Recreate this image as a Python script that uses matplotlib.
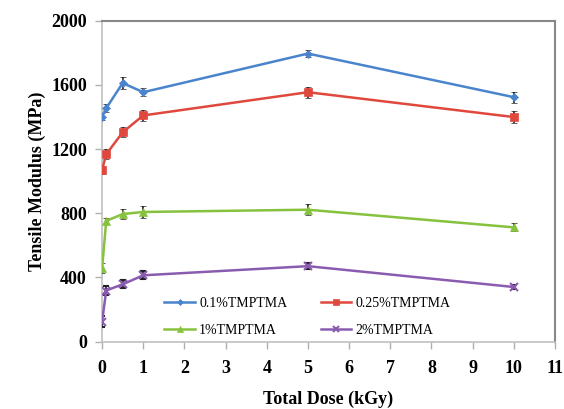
import matplotlib
matplotlib.use("Agg")
import matplotlib.pyplot as plt
from matplotlib.lines import Line2D

dose = [0, 0.1, 0.5, 1, 5, 10]
labels = ["0.1%TMPTMA", "0.25%TMPTMA", "1%TMPTMA", "2%TMPTMA"]
mod_01 = [1403, 1455, 1612, 1555, 1796, 1524]
err_01 = [20, 25, 35, 25, 20, 35]
mod_025 = [1070, 1168, 1305, 1410, 1555, 1400]
err_025 = [25, 30, 30, 35, 35, 40]
mod_1 = [457, 752, 795, 808, 822, 712]
err_1 = [30, 20, 30, 35, 35, 25]
mod_2 = [124, 318, 357, 413, 470, 340]
err_2 = [35, 30, 25, 25, 20, 15]

series = [mod_01, mod_025, mod_1, mod_2]
errors = [err_01, err_025, err_1, err_2]
colors = ["#4a84cc", "#e0483e", "#86c23e", "#8a5cb0"]
markers = ["D", "s", "^", "x"]
msizes = [4, 6, 6, 6]

xticks = list(range(0, 12))
yticks = [0, 400, 800, 1200, 1600, 2000]

fig = plt.figure(figsize=(5.64, 4.09), dpi=100)
ax = fig.add_axes([0.181, 0.165, 0.803, 0.784])

serif = "Liberation Serif"
handles = []
for y, e, c, m, ms, lab in zip(series, errors, colors, markers, msizes, labels):
    mew = 1.5 if m == "x" else 0.5
    ax.errorbar(dose, y, yerr=e, color=c, marker=m, markersize=ms, lw=1.8,
                ecolor="#222222", elinewidth=1.2, capsize=2.5, capthick=1.2,
                markeredgewidth=mew, zorder=3)
    handles.append(Line2D([], [], color=c, marker=m, markersize=ms - 1, lw=1.8,
                          markeredgewidth=mew, label=lab))

ax.set_xlim(0, 11)
ax.set_ylim(0, 2000)
ax.set_xticks(xticks)
ax.set_yticks(yticks)
ax.set_xticklabels([str(t) for t in xticks], fontfamily=serif, fontweight="bold", fontsize=13)
ax.set_yticklabels([str(t) for t in yticks], fontfamily=serif, fontweight="bold", fontsize=13)
ax.tick_params(axis="both", direction="out", length=5, width=1, color="#b0b0b0", pad=8)
ax.tick_params(axis="y", pad=6)

for side in ["left", "bottom"]:
    ax.spines[side].set_color("#c0c0c0")
    ax.spines[side].set_linewidth(1.2)
for side in ["top", "right"]:
    ax.spines[side].set_color("#888888")
    ax.spines[side].set_linewidth(1.5)

ax.set_xlabel("Total Dose (kGy)", fontfamily=serif, fontweight="bold", fontsize=13, labelpad=10)
ax.set_ylabel("Tensile Modulus (MPa)", fontfamily=serif, fontweight="bold", fontsize=13, labelpad=4)

order = [0, 2, 1, 3]
leg = ax.legend([handles[i] for i in order], [labels[i] for i in order], ncol=2,
                loc="lower left", bbox_to_anchor=(0.11, -0.025),
                frameon=False, prop={"family": serif, "size": 10},
                handlelength=2.2, columnspacing=2.4, handletextpad=0.3, labelspacing=1.0)

fig.savefig("out.png", dpi=100)
